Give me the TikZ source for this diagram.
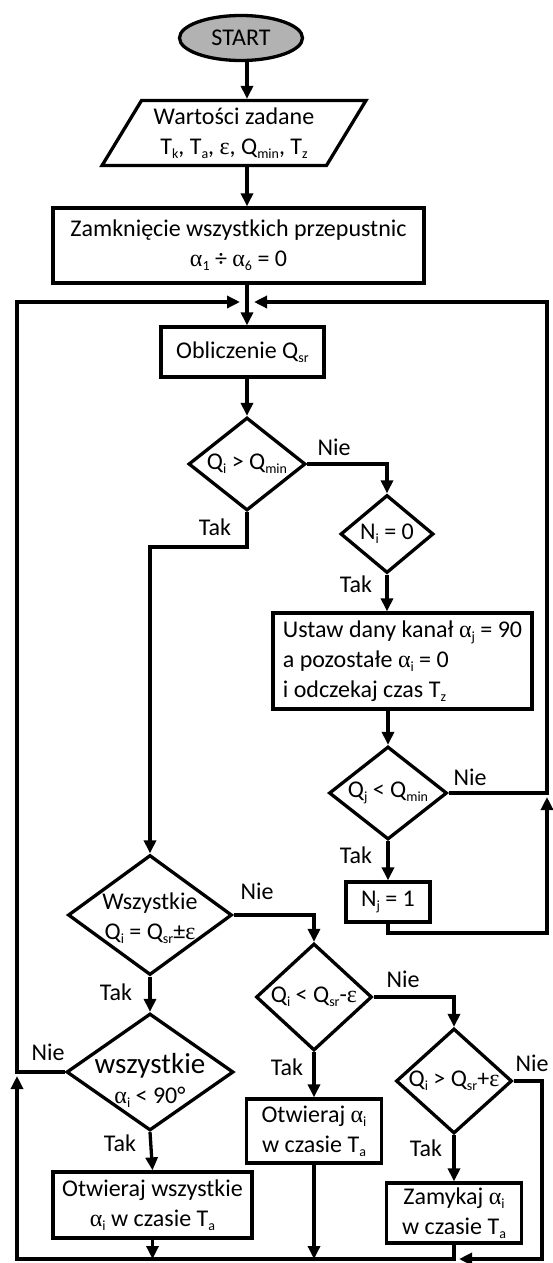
\documentclass[tikz,border=0pt]{standalone}
\usepackage{fontspec}
\setmainfont{Carlito}
\newfontfamily\grk{Liberation Serif}
\usetikzlibrary{shapes.geometric,arrows.meta,calc}
\newcommand{\sbs}[1]{\raisebox{-0.35ex}{\fontsize{14}{14}\selectfont #1}}
\newcommand{\ga}{{\grk α}}
\newcommand{\gep}{{\grk ε}}
\begin{document}
\begin{tikzpicture}[x=1pt,y=-1pt,
  every node/.style={font=\fontsize{24}{30}\selectfont},
  ln/.style={line width=3.3pt},
  arr/.style={line width=3.3pt,-{Triangle[width=12pt,length=13pt]}},
  boxn/.style={draw,line width=3.3pt,rectangle,inner sep=0pt,align=center},
  dia/.style={draw,line width=3.3pt,diamond,inner sep=0pt},
  lbl/.style={inner sep=0pt}
]
\useasboundingbox[fill=white] (0,0) rectangle (552,1263);

\coordinate (m) at (247,302);
\coordinate (mL) at (240,302);
\coordinate (mR) at (254,302);
\coordinate (TL) at (17,302);
\coordinate (TR) at (547,302);
\coordinate (R2) at (547,933);
\coordinate (BL) at (17,1259);
\coordinate (BR) at (542,1259);
\coordinate (ty) at (0,547);

\node[ellipse,draw,line width=3.3pt,fill=black!30,minimum width=123pt,minimum height=45pt,inner sep=0pt] (start) at (241,38) {START};
\node[trapezium,draw,line width=3.3pt,trapezium left angle=56,trapezium right angle=124,trapezium stretches=true,minimum width=264pt,minimum height=65pt,inner sep=0pt,align=center] (para) at (234,133) {Wartości zadane\\T\sbs{k}, T\sbs{a}, \gep, Q\sbs{min}, T\sbs{z}};
\node[boxn,minimum width=371pt,minimum height=75pt] (box1) at (238.5,245.5) {Zamknięcie wszystkich przepustnic\\\ga\sbs{1} ÷ \ga\sbs{6} = 0};
\node[boxn,minimum width=163pt,minimum height=50pt] (calc) at (242.5,352) {Obliczenie Q\sbs{sr}};
\node[dia,minimum width=117pt,minimum height=93pt,label={[lbl]center:Q\sbs{i} > Q\sbs{min}}] (d1) at (247,464) {};
\node[dia,minimum width=93pt,minimum height=78pt,label={[lbl]center:N\sbs{i} = 0}] (d2) at (387,534) {};
\node[boxn,minimum width=259pt,minimum height=96pt,align=left] (ustaw) at (402.5,661) {Ustaw dany kanał \ga\sbs{j} = 90\\a pozostałe \ga\sbs{i} = 0\\i odczekaj czas T\sbs{z}};
\node[dia,minimum width=118pt,minimum height=93pt,label={[lbl]center:Q\sbs{j} < Q\sbs{min}}] (d3) at (388,793) {};
\node[boxn,minimum width=84pt,minimum height=40pt] (nj) at (388,902) {N\sbs{j} = 1};
\node[dia,minimum width=164pt,minimum height=120pt,label={[lbl,align=center,yshift=-3pt]center:Wszystkie\\Q\sbs{i} = Q\sbs{sr}±\gep}] (d4) at (150,915) {};
\node[dia,minimum width=116pt,minimum height=107pt,label={[lbl]center:Q\sbs{i} < Q\sbs{sr}-\gep}] (d5) at (314,997) {};
\node[dia,minimum width=116pt,minimum height=105pt,label={[lbl]center:Q\sbs{i} > Q\sbs{sr}+\gep}] (d6) at (454,1081) {};
\node[dia,minimum width=167pt,minimum height=117pt,label={[lbl,align=center,yshift=-8pt]center:{\fontsize{29}{34}\selectfont wszystkie}\\\ga\sbs{i} < 90°}] (d7) at (150,1072) {};
\node[boxn,minimum width=135pt,minimum height=64pt] (box2) at (314,1131) {Otwieraj \ga\sbs{i}\\w czasie T\sbs{a}};
\node[boxn,minimum width=135pt,minimum height=60pt] (box3) at (454,1213) {Zamykaj \ga\sbs{i}\\w czasie T\sbs{a}};
\node[boxn,minimum width=199pt,minimum height=66pt] (box4) at (152.5,1205) {Otwieraj wszystkie\\\ga\sbs{i} w czasie T\sbs{a}};

\node (n1) at (334,447) {Nie};
\node (t1) at (215,527) {Tak};
\node (t2) at (356,584) {Tak};
\node (n3) at (470,777) {Nie};
\node (t3) at (356,855) {Tak};
\node (n4) at (257,891) {Nie};
\node (t4) at (116,992) {Tak};
\node (n5) at (403,979) {Nie};
\node (t5) at (287,1067) {Tak};
\node (n6) at (532,1063) {Nie};
\node (t6) at (426,1148) {Tak};
\node (n7) at (48,1052) {Nie};
\node (t7) at (120,1143) {Tak};

\draw[arr] (start.south -| m) -- (para.north -| m);
\draw[arr] (para.south -| m) -- (box1.north -| m);
\draw[arr] (box1.south -| m) -- (calc.north -| m);
\draw[arr] (calc.south -| m) -- (d1.north);
\draw[arr] (d1.east) -| (d2.north);
\draw[arr] (d1.south) |- (d4.north |- ty) -- (d4.north);
\draw[arr] (d2.south) -- (d2.south |- ustaw.north);
\draw[arr] (d3.north |- ustaw.south) -- (d3.north);
\draw[arr] (d3.east) -| (TR) -- (mR);
\draw[arr] (d3.south) -- (nj.north);
\draw[arr] (nj.south) |- (R2) -- ($(R2 |- d3.east)+(0,4)$);
\draw[arr] (d4.south) -- (d7.north);
\draw[arr] (d4.east) -| (d5.north);
\draw[arr] (d5.east) -| (d6.north);
\draw[arr] (d5.south) -- (box2.north);
\draw[arr] (box2.south) -- (box2.south |- BL);
\draw[arr] (d6.south) -- (box3.north);
\draw[arr] (box3.south) -- (box3.south |- BL) -- (BL) -- ($(BL |- d7.west)+(0,4)$);
\draw[arr] (d6.east) -| (BR) -- ($(box3.south |- BR)+(5,0)$);
\draw[arr] (d7.south) -- (box4.north);
\draw[arr] (box4.south) -- (box4.south |- BL);
\draw[arr] (d7.west) -- (d7.west -| TL) -- (TL) -- (mL);
\end{tikzpicture}
\end{document}
